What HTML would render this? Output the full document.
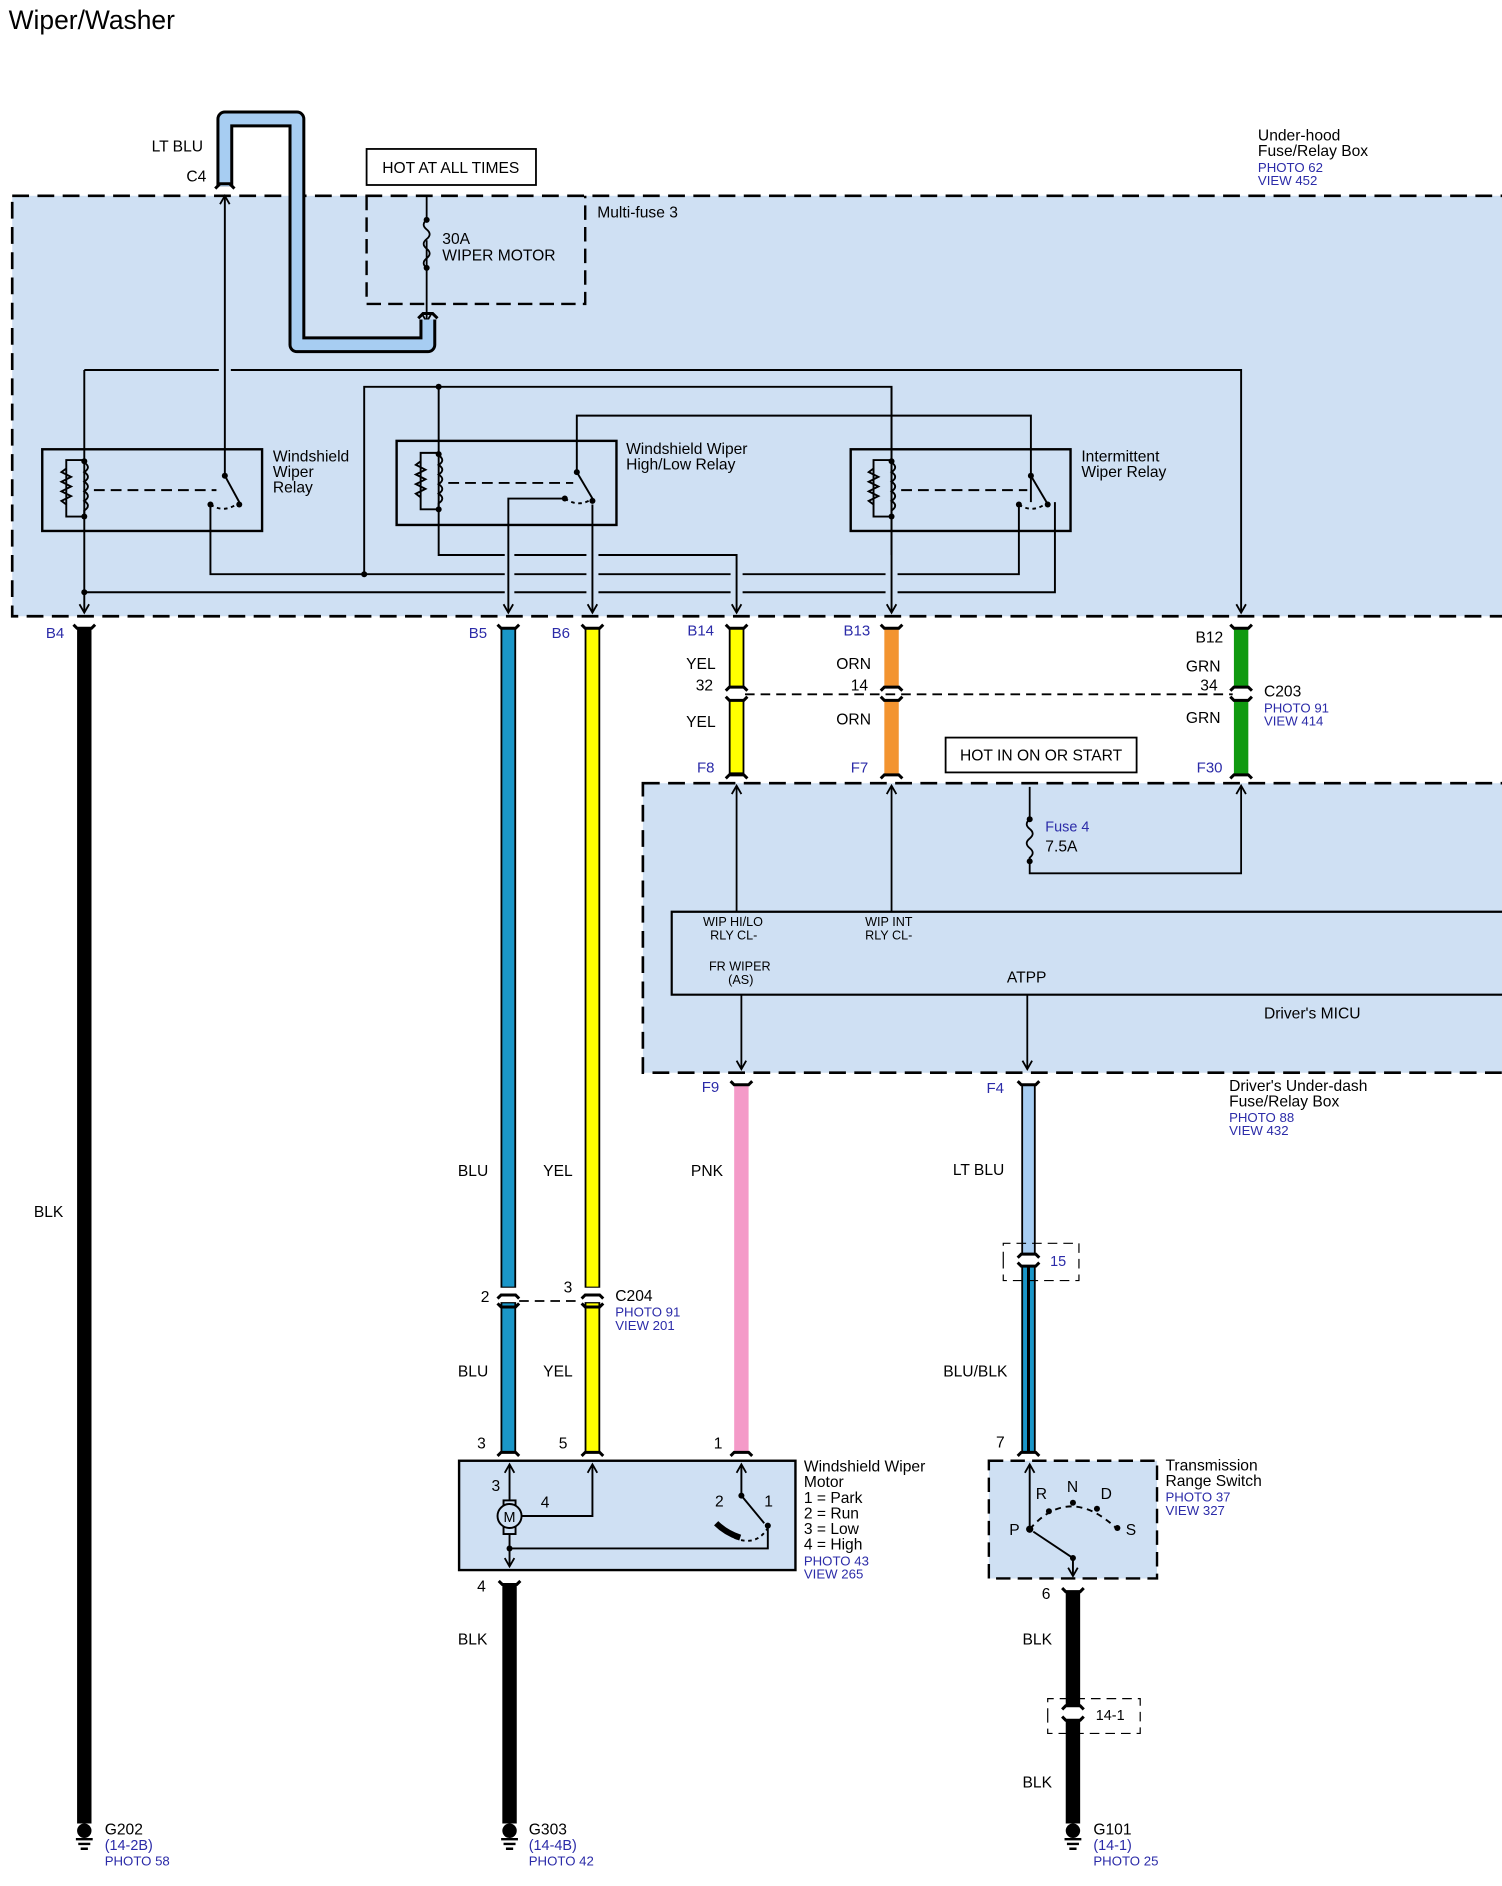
<!DOCTYPE html>
<html><head><meta charset="utf-8"><style>
body{margin:0;background:#fff}
svg{display:block}
text{font-family:"Liberation Sans",sans-serif;font-size:13px;fill:#000}
.b{fill:#2b2ba8;font-size:11px}
.c{fill:#2b2ba8;font-size:12.5px}
.s{font-size:10.5px}
</style></head><body>
<svg width="1502" height="1886" viewBox="0 0 1250 1570" xmlns="http://www.w3.org/2000/svg">
<defs>
<marker id="a" markerWidth="12" markerHeight="12" refX="8" refY="5" orient="auto" markerUnits="userSpaceOnUse"><path d="M1,1 L8,5 L1,9" fill="none" stroke="#000" stroke-width="1.5"/></marker>
</defs>
<text x="7" y="24" style="font-size:22px">Wiper/Washer</text>

<rect x="10" y="163" width="1245" height="350" fill="#cfe0f3" stroke="#000" stroke-width="2.2" stroke-dasharray="14,7"/>
<rect x="305" y="124" width="141" height="30" fill="#fff" stroke="#000" stroke-width="1.5"/>
<text x="318" y="144">HOT AT ALL TIMES</text>
<path d="M305,163 V253 H487 V163" fill="none" stroke="#000" stroke-width="2" stroke-dasharray="12,6"/>
<text x="497" y="181">Multi-fuse 3</text>
<path d="M355,163 V182 M355,200 V268" stroke="#000" stroke-width="1.5" fill="none" marker-end="url(#a)"/>
<path d="M355,183 q-5,4 0,8 q5,4 0,8 q-5,4 0,8 q5,4 0,8 q-5,4 0,8 V223" stroke="#000" stroke-width="1.5" fill="none"/>
<circle cx="355" cy="183" r="2.5"/><circle cx="355" cy="223" r="2.5"/>
<text x="368" y="203">30A</text><text x="368" y="217">WIPER MOTOR</text>

<path d="M187,155 V99 H247 V287 H356 V266" fill="none" stroke="#000" stroke-width="14" stroke-linejoin="round"/>
<path d="M187,155 V99 H247 V287 H356 V266" fill="none" stroke="#a7cdf2" stroke-width="9" stroke-linejoin="round"/>
<path d="M179,157 L183,153 H191 L195,157 M348,265 L352,261 H360 L364,265" stroke="#000" stroke-width="2.5" fill="none"/>
<text x="126" y="126">LT BLU</text><text x="155" y="151">C4</text>
<text x="1047" y="117">Under-hood</text><text x="1047" y="130">Fuse/Relay Box</text>
<text class="b" x="1047" y="143">PHOTO 62</text><text class="b" x="1047" y="154">VIEW 452</text>

<g stroke="#000" stroke-width="1.6" fill="none">
<path d="M187,396 V163" marker-end="url(#a)"/>
<path d="M70,308 H182 M192,308 H1033 V510" marker-end="url(#a)"/>
<path d="M303,478 V322 H742 V510" marker-end="url(#a)"/>
<path d="M480,393 V346 H858 V418"/>
<path d="M70,308 V510" marker-end="url(#a)"/>
<path d="M70,493 H420 M428,493 H488 M498,493 H608 M618,493 H737 M747,493 H878 V418"/>
<path d="M175,420 V478 H420 M428,478 H488 M498,478 H608 M618,478 H737 M747,478 H848 V420"/>
<path d="M365,322 V462 H420 M428,462 H488 M498,462 H613 V510" marker-end="url(#a)"/>
<path d="M470,415 H423 V510" marker-end="url(#a)"/>
<path d="M493,420 V510" marker-end="url(#a)"/>
<path d="M742,322 V462" />
<rect x="35" y="374" width="183" height="68" stroke-width="2"/>
<rect x="330" y="367" width="183" height="70" stroke-width="2"/>
<rect x="708" y="374" width="183" height="68" stroke-width="2"/>
<path d="M70,383 H55 V430 H70 M55,390 l-4,3 8,4 -8,4 8,4 -8,4 8,4 -8,4 4,3"/>
<path d="M70,385 q6,4 0,8 q6,4 0,8 q6,4 0,8 q6,4 0,8 q6,4 0,8 V428"/>
<path d="M78,408 H180" stroke-dasharray="9,5"/>
<path d="M187,396 L199,418"/><path d="M175,420 q12,8 24,-2" stroke-dasharray="3,3"/>
<path d="M365,377 H350 V424 H365 M350,384 l-4,3 8,4 -8,4 8,4 -8,4 8,4 -8,4 4,3"/>
<path d="M365,379 q6,4 0,8 q6,4 0,8 q6,4 0,8 q6,4 0,8 q6,4 0,8 V422"/>
<path d="M373,402 H477" stroke-dasharray="9,5"/>
<path d="M480,393 L493,415"/><path d="M470,415 q12,8 23,0" stroke-dasharray="3,3"/>
<path d="M742,383 H727 V430 H742 M727,390 l-4,3 8,4 -8,4 8,4 -8,4 8,4 -8,4 4,3"/>
<path d="M742,385 q6,4 0,8 q6,4 0,8 q6,4 0,8 q6,4 0,8 q6,4 0,8 V428"/>
<path d="M750,408 H855" stroke-dasharray="9,5"/>
<path d="M858,396 L871,418"/><path d="M848,420 q12,8 24,-2" stroke-dasharray="3,3"/>
</g>
<g>
<circle cx="70" cy="384" r="2.5"/><circle cx="70" cy="430" r="2.5"/><circle cx="187" cy="396" r="2.5"/><circle cx="199" cy="420" r="2.5"/><circle cx="175" cy="420" r="2.5"/><circle cx="70" cy="493" r="2.5"/>
<circle cx="365" cy="378" r="2.5"/><circle cx="365" cy="424" r="2.5"/><circle cx="480" cy="393" r="2.5"/><circle cx="493" cy="417" r="2.5"/><circle cx="470" cy="415" r="2.5"/><circle cx="365" cy="322" r="2.5"/><circle cx="303" cy="478" r="2.5"/>
<circle cx="742" cy="384" r="2.5"/><circle cx="742" cy="430" r="2.5"/><circle cx="858" cy="396" r="2.5"/><circle cx="872" cy="420" r="2.5"/><circle cx="848" cy="420" r="2.5"/>
</g>
<text x="227" y="384">Windshield</text><text x="227" y="397">Wiper</text><text x="227" y="410">Relay</text>
<text x="521" y="378">Windshield Wiper</text><text x="521" y="391">High/Low Relay</text>
<text x="900" y="384">Intermittent</text><text x="900" y="397">Wiper Relay</text>

<g fill="none" stroke-linecap="butt">
<path d="M70,523 V1518" stroke="#000" stroke-width="12"/>
<path d="M423,523 V1072 M423,1084 V1210" stroke="#000" stroke-width="13"/>
<path d="M423,524 V1071 M423,1085 V1209" stroke="#1a96c8" stroke-width="10"/>
<path d="M493,523 V1072 M493,1084 V1210" stroke="#000" stroke-width="13"/>
<path d="M493,524 V1071 M493,1085 V1209" stroke="#ffff00" stroke-width="10"/>
<path d="M613,523 V572 M613,582 V644" stroke="#000" stroke-width="13"/>
<path d="M613,524 V571 M613,583 V643" stroke="#ffff00" stroke-width="10"/>
<path d="M742,523 V572 M742,582 V644" stroke="#f39430" stroke-width="12"/>
<path d="M1033,523 V572 M1033,582 V644" stroke="#109a10" stroke-width="12"/>
<path d="M617,903 V1210" stroke="#f49ac8" stroke-width="12"/>
<path d="M856,903 V1044 M856,1054 V1210" stroke="#000" stroke-width="12"/>
<path d="M856,904 V1043" stroke="#a7cdf2" stroke-width="9"/>
<path d="M856,1055 V1209" stroke="#1a96c8" stroke-width="9"/>
<path d="M856,1055 V1209" stroke="#000" stroke-width="2.5"/>
<path d="M424,1318 V1518" stroke="#000" stroke-width="12"/>
<path d="M893,1325 V1420 M893,1432 V1518" stroke="#000" stroke-width="12"/>
</g>
<g stroke="#000" stroke-width="2.5" fill="none">
<path d="M61,520 l3,3 h12 l3,-3 M414,520 l3,3 h12 l3,-3 M484,520 l3,3 h12 l3,-3 M604,520 l3,3 h12 l3,-3 M733,520 l3,3 h12 l3,-3 M1024,520 l3,3 h12 l3,-3"/>
<path d="M604,575 l3,-3 h12 l3,3 M604,580 l3,3 h12 l3,-3 M733,575 l3,-3 h12 l3,3 M733,580 l3,3 h12 l3,-3 M1024,575 l3,-3 h12 l3,3 M1024,580 l3,3 h12 l3,-3"/>
<path d="M604,648 l3,-3 h12 l3,3 M733,648 l3,-3 h12 l3,3 M1024,648 l3,-3 h12 l3,3"/>
<path d="M414,1081 l3,-3 h12 l3,3 M414,1085 l3,3 h12 l3,-3 M484,1081 l3,-3 h12 l3,3 M484,1085 l3,3 h12 l3,-3"/>
<path d="M608,900 l3,3 h12 l3,-3 M847,900 l3,3 h12 l3,-3 M847,1047 l3,-3 h12 l3,3 M847,1051 l3,3 h12 l3,-3"/>
<path d="M414,1212 l3,-3 h12 l3,3 M484,1212 l3,-3 h12 l3,3 M608,1212 l3,-3 h12 l3,3 M847,1212 l3,-3 h12 l3,3"/>
<path d="M415,1316 l3,3 h12 l3,-3 M884,1322 l3,3 h12 l3,-3 M884,1423 l3,-3 h12 l3,3 M884,1429 l3,3 h12 l3,-3"/>
</g>
<path d="M620,578 H1026" stroke="#000" stroke-width="1.5" stroke-dasharray="8,5"/>
<path d="M432,1083 H484" stroke="#000" stroke-width="1.5" stroke-dasharray="8,5"/>
<path d="M835,1050 V1035 H898 V1066 H835 Z" fill="none" stroke="#000" stroke-width="1" stroke-dasharray="8,5"/>
<path d="M872,1430 V1414 H949 V1443 H872 Z" fill="none" stroke="#000" stroke-width="1" stroke-dasharray="8,5"/>

<text class="c" x="38" y="531">B4</text><text class="c" x="390" y="531">B5</text><text class="c" x="459" y="531">B6</text>
<text class="c" x="572" y="529">B14</text><text class="c" x="702" y="529">B13</text><text x="995" y="535">B12</text>
<text x="571" y="557">YEL</text><text x="579" y="575">32</text><text x="571" y="605">YEL</text>
<text x="696" y="557">ORN</text><text x="708" y="575">14</text><text x="696" y="603">ORN</text>
<text x="987" y="559">GRN</text><text x="999" y="575">34</text><text x="987" y="602">GRN</text>
<text x="1052" y="580">C203</text><text class="b" x="1052" y="593">PHOTO 91</text><text class="b" x="1052" y="604">VIEW 414</text>
<text class="c" x="580" y="643">F8</text><text class="c" x="708" y="643">F7</text><text class="c" x="996" y="643">F30</text>

<rect x="787" y="614" width="159" height="29" fill="#fff" stroke="#000" stroke-width="1.5"/>
<text x="799" y="633">HOT IN ON OR START</text>
<rect x="535" y="652" width="720" height="241" fill="#cfe0f3" stroke="#000" stroke-width="2.2" stroke-dasharray="14,7"/>
<path d="M1255,759 H559 V828 H1255" fill="none" stroke="#000" stroke-width="1.8"/>
<g stroke="#000" stroke-width="1.5" fill="none">
<path d="M857,655 V682 M857,717 V727 H1033 V654" marker-end="url(#a)"/>
<path d="M857,682 q-5,4 0,8 q5,4 0,8 q-5,4 0,8 q5,4 0,8 V717"/>
<path d="M613,759 V654" marker-end="url(#a)"/><path d="M742,759 V654" marker-end="url(#a)"/>
<path d="M617,828 V890" marker-end="url(#a)"/><path d="M855,828 V890" marker-end="url(#a)"/>
</g>
<circle cx="857" cy="682" r="2.5"/><circle cx="857" cy="717" r="2.5"/>
<text class="b" x="870" y="692" style="font-size:12px">Fuse 4</text><text x="870" y="709">7.5A</text>
<text class="s" x="585" y="771">WIP HI/LO</text><text class="s" x="591" y="782">RLY CL-</text>
<text class="s" x="720" y="771">WIP INT</text><text class="s" x="720" y="782">RLY CL-</text>
<text class="s" x="590" y="808">FR WIPER</text><text class="s" x="606" y="819">(AS)</text>
<text x="838" y="818">ATPP</text><text x="1052" y="848">Driver's MICU</text>
<text class="c" x="584" y="909">F9</text><text class="c" x="821" y="910">F4</text>
<text x="1023" y="908">Driver's Under-dash</text><text x="1023" y="921">Fuse/Relay Box</text>
<text class="b" x="1023" y="934">PHOTO 88</text><text class="b" x="1023" y="945">VIEW 432</text>

<text x="28" y="1013">BLK</text>
<text x="381" y="979">BLU</text><text x="452" y="979">YEL</text><text x="575" y="979">PNK</text><text x="793" y="978">LT BLU</text>
<text class="b" x="874" y="1054" style="font-size:12px">15</text>
<text x="400" y="1084">2</text><text x="469" y="1076">3</text>
<text x="512" y="1083">C204</text><text class="b" x="512" y="1096">PHOTO 91</text><text class="b" x="512" y="1107">VIEW 201</text>
<text x="381" y="1146">BLU</text><text x="452" y="1146">YEL</text><text x="785" y="1146">BLU/BLK</text>
<text x="397" y="1206">3</text><text x="465" y="1206">5</text><text x="594" y="1206">1</text><text x="829" y="1205">7</text>

<rect x="382" y="1216" width="280" height="91" fill="#cfe0f3" stroke="#000" stroke-width="2"/>
<g stroke="#000" stroke-width="1.6" fill="none">
<path d="M424,1250 V1219" marker-end="url(#a)"/>
<path d="M424,1276 V1304" marker-end="url(#a)"/>
<path d="M424,1289 H639 V1272"/>
<path d="M432,1262 H493 V1219" marker-end="url(#a)"/>
<path d="M617,1245 V1219" marker-end="url(#a)"/>
<path d="M617,1245 L636,1268"/>
<path d="M611,1280 q18,8 28,-8" stroke-dasharray="3,3"/>
<path d="M596,1268 q8,8 20,12" stroke-width="5"/>
<rect x="419" y="1249" width="10" height="28" fill="#cfe0f3"/>
<circle cx="424" cy="1262" r="10" fill="#cfe0f3"/>
</g>
<text x="419" y="1267" style="font-size:12px">M</text>
<circle cx="424" cy="1289" r="2.5"/><circle cx="617" cy="1245" r="2.5"/><circle cx="639" cy="1270" r="2.5"/>
<text x="409" y="1241">3</text><text x="450" y="1255">4</text><text x="595" y="1254">2</text><text x="636" y="1254">1</text>
<text x="669" y="1225">Windshield Wiper</text><text x="669" y="1238">Motor</text><text x="669" y="1251">1 = Park</text><text x="669" y="1264">2 = Run</text><text x="669" y="1277">3 = Low</text><text x="669" y="1290">4 = High</text>
<text class="b" x="669" y="1303">PHOTO 43</text><text class="b" x="669" y="1314">VIEW 265</text>

<rect x="823" y="1216" width="140" height="98" fill="#cfe0f3" stroke="#000" stroke-width="2" stroke-dasharray="12,6"/>
<g stroke="#000" stroke-width="1.6" fill="none">
<path d="M857,1273 V1219" marker-end="url(#a)"/>
<path d="M893,1297 V1312" marker-end="url(#a)"/>
<path d="M893,1297 L860,1275"/>
<path d="M857,1273 Q890,1235 930,1273" stroke-dasharray="5,4"/>
</g>
<circle cx="857" cy="1273" r="3"/><circle cx="893" cy="1297" r="2.5"/><circle cx="873" cy="1258" r="2.5"/><circle cx="893" cy="1251" r="2.5"/><circle cx="913" cy="1256" r="2.5"/><circle cx="930" cy="1272" r="2.5"/>
<text x="862" y="1248">R</text><text x="888" y="1242">N</text><text x="916" y="1248">D</text><text x="840" y="1278">P</text><text x="937" y="1278">S</text>
<text x="970" y="1224">Transmission</text><text x="970" y="1237">Range Switch</text>
<text class="b" x="970" y="1250">PHOTO 37</text><text class="b" x="970" y="1261">VIEW 327</text>

<text x="397" y="1325">4</text><text x="867" y="1331">6</text>
<text x="381" y="1369">BLK</text><text x="851" y="1369">BLK</text><text x="851" y="1488">BLK</text>
<text x="912" y="1432" style="font-size:12px">14-1</text>

<g stroke="#000" stroke-width="2" fill="none">
<path d="M63,1531 h14 M65,1535 h10 M67,1539 h6 M417,1531 h14 M419,1535 h10 M421,1539 h6 M886,1531 h14 M888,1535 h10 M890,1539 h6"/>
</g>
<circle cx="70" cy="1524" r="6"/><circle cx="424" cy="1524" r="6"/><circle cx="893" cy="1524" r="6"/>
<text x="87" y="1527">G202</text><text class="b" x="87" y="1540" style="font-size:12px">(14-2B)</text><text class="b" x="87" y="1553">PHOTO 58</text>
<text x="440" y="1527">G303</text><text class="b" x="440" y="1540" style="font-size:12px">(14-4B)</text><text class="b" x="440" y="1553">PHOTO 42</text>
<text x="910" y="1527">G101</text><text class="b" x="910" y="1540" style="font-size:12px">(14-1)</text><text class="b" x="910" y="1553">PHOTO 25</text>
</svg>
</body></html>
